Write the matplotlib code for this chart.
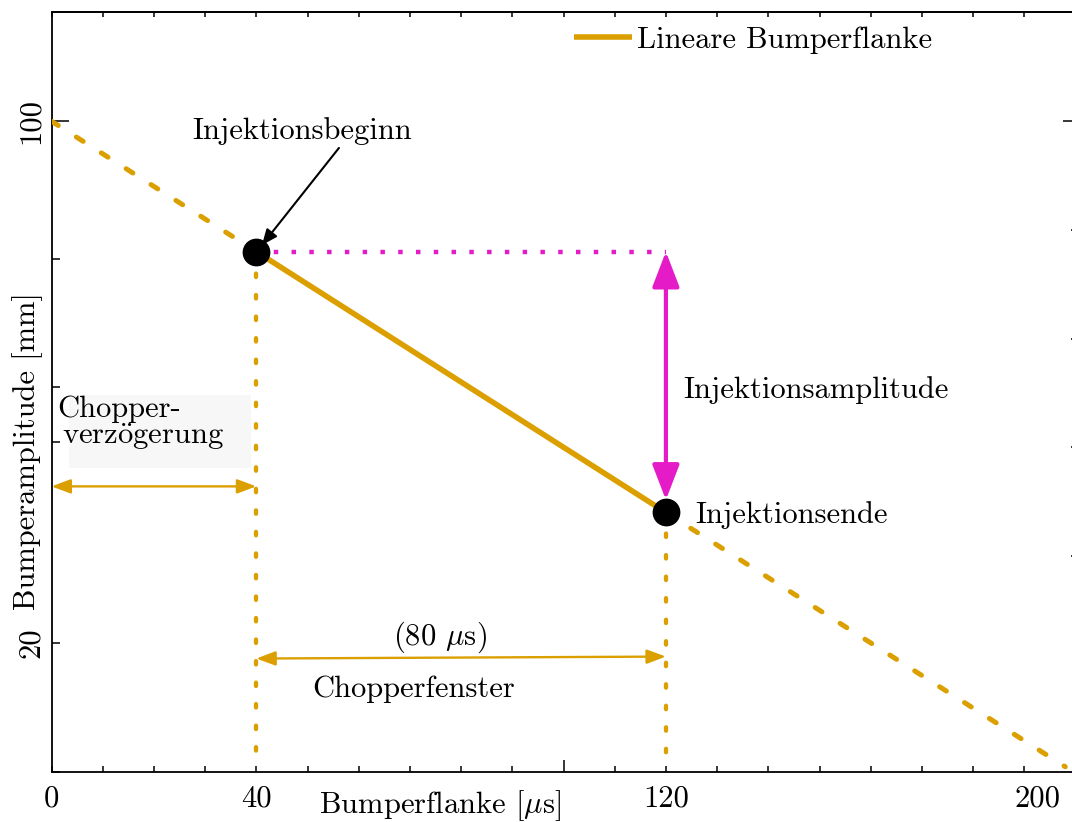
import numpy as np
import matplotlib
matplotlib.use("Agg")
import matplotlib.pyplot as plt
from matplotlib.patches import Rectangle

plt.rcParams["font.family"] = ["cmr10", "DejaVu Serif"]
plt.rcParams["mathtext.fontset"] = "cm"
plt.rcParams["axes.unicode_minus"] = False
plt.rcParams["axes.formatter.use_mathtext"] = True
plt.rcParams["font.size"] = 22

# --- data -------------------------------------------------------------
flank_x = [0, 40, 120, 198]          # Bumperflanke [us]
flank_y = [100, 80, 40, 1.0]         # Bumperamplitude [mm]
inj_start = (40, 80)                 # Injektionsbeginn
inj_end = (120, 40)                  # Injektionsende
delay_y = 44.0                       # height of the delay arrow
window_y = (17.6, 17.9)              # heights of the window arrow ends
axis_bottom = 1.5

x_tick_labels = {0: "0", 40: "40", 120: "120"}
y_major = [100]
y_minor = [78.85, 59.2, 50.8, 20, 0.2]
y_labels = {100: "100", 20: "20"}
right_major = [100]
right_minor = [83.33, 66.67, 50, 33.33]

ORANGE = "#DBA000"
MAGENTA = "#E41BC6"

W, H = 1072, 822
fig = plt.figure(figsize=(W / 100, H / 100), dpi=100)
ax = fig.add_axes([51.5 / W, 50 / H, 1024 / W, 759.7 / H])
ax.set_xlim(0, 200)
ax.set_ylim(0.2, 116.7)

# --- axes decoration --------------------------------------------------
for s in ["left", "bottom", "top"]:
    ax.spines[s].set_linewidth(1.3)
ax.spines["right"].set_visible(False)

ax.set_xticks([100])
ax.set_xticklabels([""])
minor_x = [v for v in range(0, 200, 10) if v != 100]
ax.set_xticks(minor_x, minor=True)
ax.set_xticklabels([x_tick_labels.get(v, "") for v in minor_x], minor=True)
ax.tick_params(axis="x", which="major", direction="in", length=8.6, width=1.1, pad=9.4)
ax.tick_params(axis="x", which="minor", direction="in", length=4.3, width=1.1, pad=9.4,
               labelsize=22)

ax.set_yticks(y_major)
ax.set_yticklabels([y_labels.get(v, "") for v in y_major])
ax.set_yticks(y_minor, minor=True)
ax.set_yticklabels([y_labels.get(v, "") for v in y_minor], minor=True)
ax.tick_params(axis="y", which="major", direction="in", length=12, width=1.1, pad=4.7,
               labelrotation=90)
ax.tick_params(axis="y", which="minor", direction="in", length=6, width=1.1, pad=4.7,
               labelrotation=90, labelsize=22)
for lbl in ax.get_yticklabels(which="both"):
    lbl.set_va("center")

top = ax.secondary_xaxis("top")
top.set_xticks([])
top.set_xticks(list(range(0, 200, 10)), minor=True)
top.tick_params(which="both", direction="in", length=3.6, width=1.1, labeltop=False)
top.spines["top"].set_linewidth(1.3)

right = ax.secondary_yaxis("right")
right.set_yticks(right_major)
right.set_yticks(right_minor, minor=True)
right.tick_params(which="major", direction="in", length=9.4, width=1.1, labelright=False)
right.tick_params(which="minor", direction="in", length=3.6, width=1.1, labelright=False)

ax.annotate("200", xy=(200, 0), xycoords=("data", "axes fraction"),
            xytext=(-15, -13), textcoords="offset pixels", ha="right", va="top",
            fontsize=22)

ax.set_xlabel(r"Bumperflanke [$\mu$s]", fontsize=22)
ax.xaxis.set_label_coords(0.3794, -0.021)
ax.xaxis.label.set_va("top")
ax.set_ylabel("Bumperamplitude [mm]", fontsize=22)
ax.yaxis.set_label_coords(-0.0083, 0.4225)

# --- curves -----------------------------------------------------------
ax.plot(flank_x[:2], flank_y[:2], color=ORANGE, lw=3.6, ls=(0, (1.6, 4.3)),
        dash_capstyle="round", zorder=3)
ax.plot(flank_x[2:], flank_y[2:], color=ORANGE, lw=3.6, ls=(0, (1.6, 4.3)),
        dash_capstyle="round", zorder=3)
line, = ax.plot(flank_x[1:3], flank_y[1:3], color=ORANGE, lw=4.0,
                solid_capstyle="butt", zorder=4, label="Lineare Bumperflanke")

# vertical markers for window start / end
for x0, y0 in (inj_start, inj_end):
    ax.plot([x0, x0], [y0, axis_bottom], color=ORANGE, lw=3.1,
            ls=(0, (0.8, 4.2)), dash_capstyle="round", zorder=2)

# horizontal reference at the start amplitude
ax.plot([inj_start[0], inj_end[0]], [inj_start[1], inj_start[1]], color=MAGENTA,
        lw=3.2, ls=(0, (1, 3.0)), dash_capstyle="butt", zorder=2)

# injection amplitude arrow
ax.annotate("", xy=(inj_end[0], inj_end[1]), xytext=(inj_end[0], inj_start[1]),
            arrowprops=dict(arrowstyle="<|-|>,head_length=2.16,head_width=0.83",
                            mutation_scale=10, lw=3.0, color=MAGENTA,
                            shrinkA=0, shrinkB=9), zorder=5)

ax.plot([inj_start[0], inj_end[0]], [inj_start[1], inj_end[1]], "o", color="black",
        ms=19, zorder=6)

# delay and window arrows
ax.annotate("", xy=(0, delay_y), xytext=(inj_start[0], delay_y),
            arrowprops=dict(arrowstyle="<|-|>,head_length=1.15,head_width=0.43",
                            mutation_scale=10, lw=1.7, color=ORANGE,
                            shrinkA=0, shrinkB=0), zorder=5)
ax.annotate("", xy=(inj_start[0], window_y[0]), xytext=(inj_end[0], window_y[1]),
            arrowprops=dict(arrowstyle="<|-|>,head_length=1.15,head_width=0.43",
                            mutation_scale=10, lw=1.7, color=ORANGE,
                            shrinkA=0, shrinkB=0), zorder=5)

# --- annotations ------------------------------------------------------
ax.add_patch(Rectangle((3.42, 46.8), 35.5, 11.2, facecolor="#f7f7f7",
                       edgecolor="none", zorder=1))
ax.text(1.1, 54.7, "Chopper-", ha="left", va="baseline", zorder=2)
ax.text(2.05, 50.5, r"verz$\ddot{\mathrm{o}}$gerung", ha="left", va="baseline", zorder=2)

ax.text(75.9, 19.7, r"(80 $\mu$s)", ha="center", va="baseline")
ax.text(50.9, 11.7, "Chopperfenster", ha="left", va="baseline")

ax.annotate("Injektionsbeginn", xy=(41.1, 81.0), xytext=(27.4, 97.24),
            ha="left", va="baseline",
            arrowprops=dict(arrowstyle="-|>,head_length=0.94,head_width=0.4",
                            mutation_scale=10, lw=1.5, color="black",
                            shrinkA=0, shrinkB=0, relpos=(0.68, 0.0)))
ax.text(123.3, 57.55, "Injektionsamplitude", ha="left", va="baseline")
ax.text(125.7, 38.4, "Injektionsende", ha="left", va="baseline")

ax.legend(handles=[line], loc="center left", bbox_to_anchor=(99.1, 112.4),
          bbox_transform=ax.transData, frameon=False, borderpad=0,
          handlelength=1.9, handletextpad=0.16, fontsize=22)

fig.savefig("out.png", dpi=100)
